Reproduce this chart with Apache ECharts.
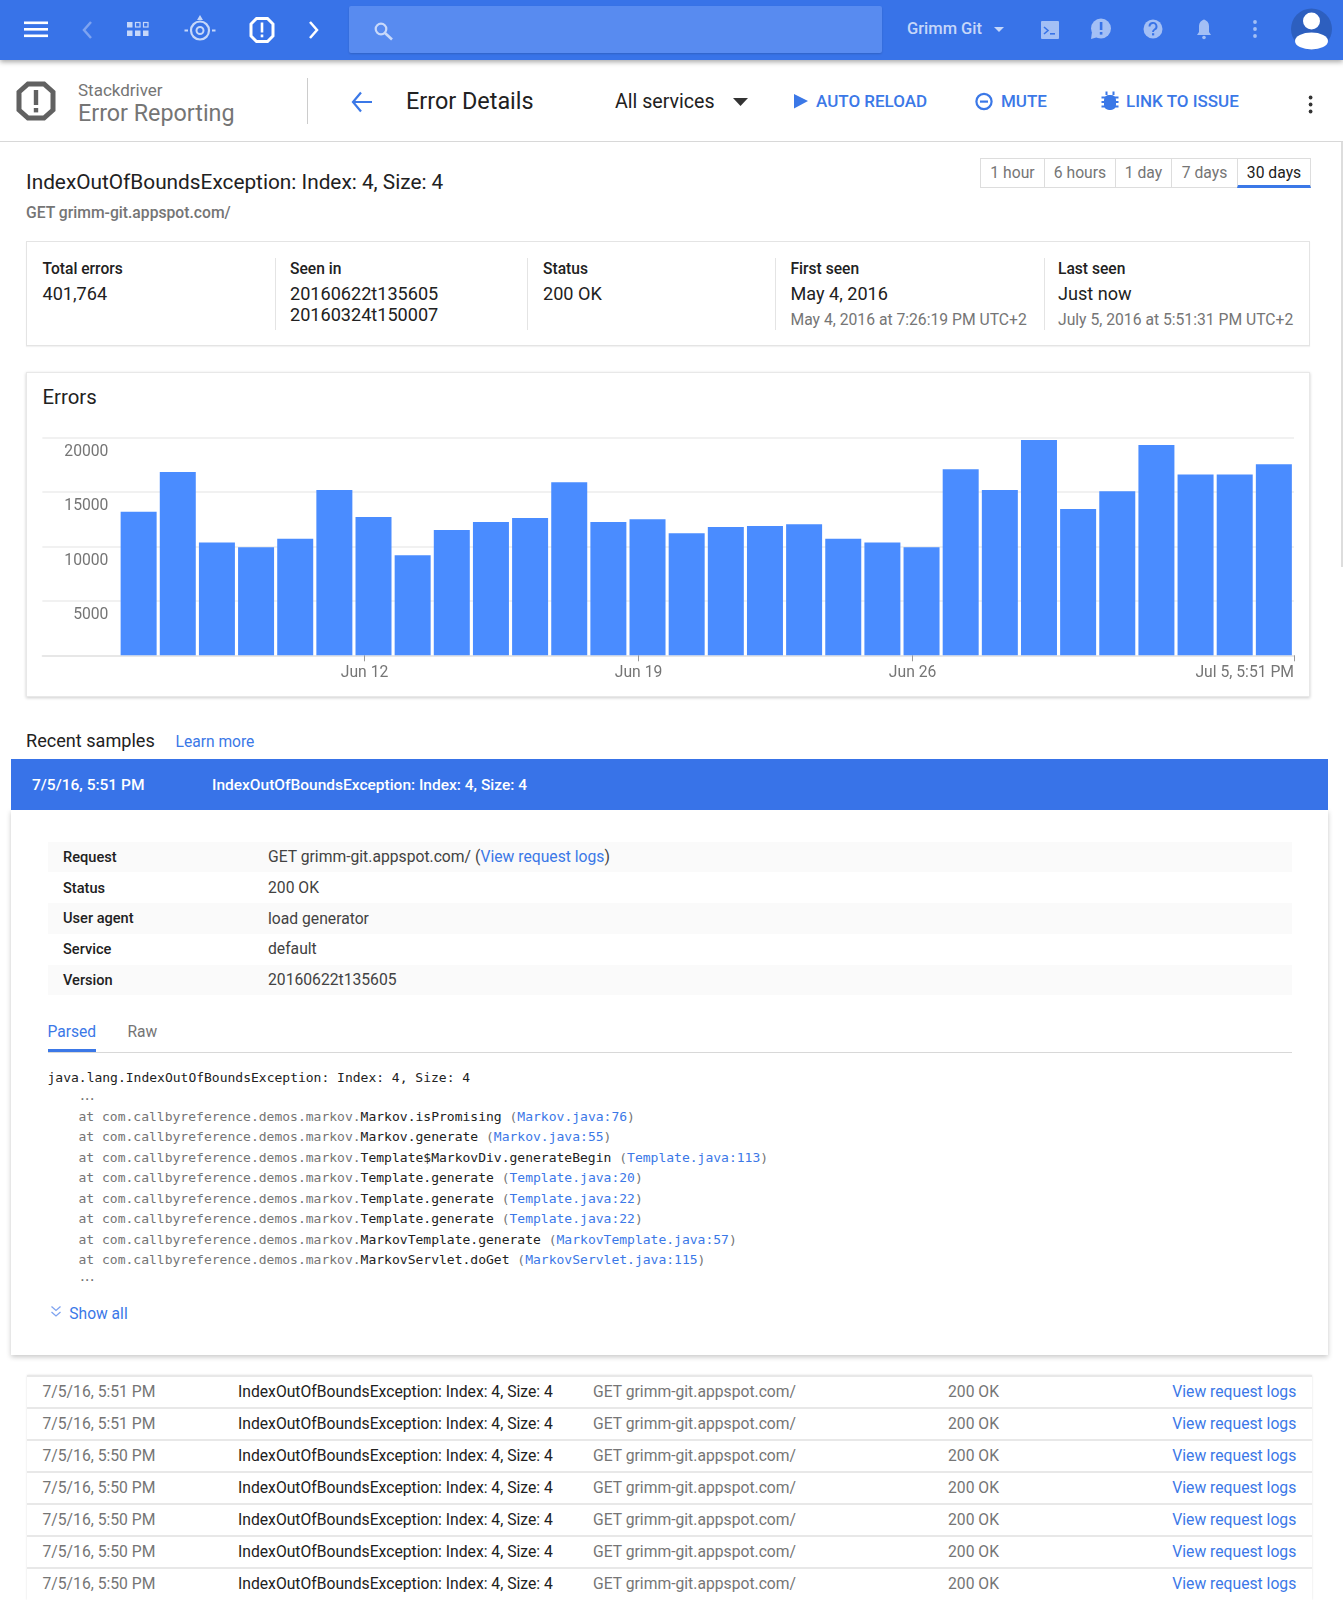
<!DOCTYPE html>
<html>
<head>
<meta charset="utf-8">
<title>Error Details</title>
<script src="https://cdn.jsdelivr.net/npm/echarts@6/dist/echarts.min.js"></script>
<style>
html,body{margin:0;padding:0;background:#fff;font-family:Roboto,sans-serif;}
#page{position:relative;width:1343px;height:1600px;overflow:hidden;}
.t{position:absolute;white-space:nowrap;line-height:20px;height:20px;margin-top:-10px;}
.b{position:absolute;box-sizing:border-box;}
a{color:#3b78e7;}
svg{position:absolute;left:0;top:0;}
</style>
</head>
<body>
<div id="page"></div>
<script>
// chart values
var barDates = ['2016-06-06','2016-06-07','2016-06-08','2016-06-09','2016-06-10','2016-06-11','2016-06-12','2016-06-13','2016-06-14','2016-06-15',
	'2016-06-16','2016-06-17','2016-06-18','2016-06-19','2016-06-20','2016-06-21','2016-06-22','2016-06-23','2016-06-24','2016-06-25',
	'2016-06-26','2016-06-27','2016-06-28','2016-06-29','2016-06-30','2016-07-01','2016-07-02','2016-07-03','2016-07-04','2016-07-05'];
var barValues = [13180,16820,10340,9910,10700,15170,12690,9170,11500,12230,
	12600,15870,12230,12480,11190,11770,11870,12020,10700,10340,
	9910,17060,15170,19750,13420,15050,19300,16580,16580,17520];
var tickDates = ['2016-06-12T00:00','2016-06-19T00:00','2016-06-26T00:00','2016-07-05T17:51'];
var tickLabels = ['Jun 12','Jun 19','Jun 26','Jul 5, 5:51 PM'];
var axisStart = '2016-06-03T18:30';

var statRows = [['Request'],['Status','200 OK'],['User agent','load generator'],['Service','default'],['Version','20160622t135605']];
var traceRows = [
	['Markov.isPromising','Markov.java:76'],
	['Markov.generate','Markov.java:55'],
	['Template$MarkovDiv.generateBegin','Template.java:113'],
	['Template.generate','Template.java:20'],
	['Template.generate','Template.java:22'],
	['Template.generate','Template.java:22'],
	['MarkovTemplate.generate','MarkovTemplate.java:57'],
	['MarkovServlet.doGet','MarkovServlet.java:115']
];
var sampleTimes = ['7/5/16, 5:51 PM','7/5/16, 5:51 PM','7/5/16, 5:50 PM','7/5/16, 5:50 PM','7/5/16, 5:50 PM','7/5/16, 5:50 PM','7/5/16, 5:50 PM'];

var page = document.getElementById('page');
var BLUE = '#3b78e7';
var GREY = '#757575';
var DARK = '#212121';

function text(x, y, str, size, color, weight, extra){
	var d = document.createElement('div');
	d.className = 't';
	d.style.cssText = 'left:'+x+'px;top:'+y+'px;font-size:'+size+'px;color:'+color+';font-weight:'+(weight||400)+';'+(extra||'');
	d.innerHTML = str;
	page.appendChild(d);
	return d;
}
function box(x, y, w, h, style){
	var d = document.createElement('div');
	d.className = 'b';
	d.style.cssText = 'left:'+x+'px;top:'+y+'px;width:'+w+'px;height:'+h+'px;'+style;
	page.appendChild(d);
	return d;
}
function ms(s){ return new Date(s).getTime(); }

// top bar and sub header
box(0,141,1343,1,'background:#d8d8d8;');
box(0,0,1343,60,'background:#3873e8;box-shadow:0 2px 5px rgba(0,0,0,.35);');
box(349,6,533,47,'background:#588bf0;border-radius:2px;box-shadow:0 1px 2px rgba(0,0,0,.15);');
text(907,29,'Grimm Git',16.5,'#c6d7f9',500);
box(1341,142,2,425,'background:#ddd;');

text(78,90.2,'Stackdriver',17,GREY);
text(78,113,'Error Reporting',23.3,GREY);
box(307,78,1,46,'background:#ccc;');
text(406,101,'Error Details',23.4,DARK);
text(615,101.5,'All services',19.6,DARK);
text(816,101,'AUTO RELOAD',17,BLUE,500);
text(1001,101,'MUTE',17,BLUE,500);
text(1126,101,'LINK TO ISSUE',17,BLUE,500);

// range buttons
var ranges = [['1 hour',980,64],['6 hours',1044,71],['1 day',1115,56],['7 days',1171,66],['30 days',1237,73]];
ranges.forEach(function(r,i){
	var on = i==4;
	box(r[1],158,r[2]+1,30,'border:1px solid #ddd;background:#fff;'+(on?'border-bottom:3px solid '+BLUE+';':''));
	text(r[1],172.5,r[0],15.7,on?DARK:GREY,400,'width:'+(r[2]+1)+'px;text-align:center;');
});

// heading and stats
text(26,182,'IndexOutOfBoundsException: Index: 4, Size: 4',20.8,DARK);
text(26,213,'GET grimm-git.appspot.com/',15.7,GREY,500);
box(26,241,1284,105,'border:1px solid #e4e4e4;box-shadow:0 1px 1px rgba(0,0,0,.05);');
[275,527,775,1044].forEach(function(x){ box(x,258,1,72,'background:#e4e4e4;'); });
text(42.5,268.5,'Total errors',15.6,DARK,500);
text(42.5,294,'401,764',18.1,DARK);
text(290,268.5,'Seen in',15.6,DARK,500);
text(290,294,'20160622t135605',18.1,DARK);
text(290,315,'20160324t150007',18.1,DARK);
text(543,268.5,'Status',15.6,DARK,500);
text(543,294,'200 OK',18.1,DARK);
text(790.5,268.5,'First seen',15.6,DARK,500);
text(790.5,294,'May 4, 2016',18.1,DARK);
text(790.5,319.5,'May 4, 2016 at 7:26:19 PM UTC+2',15.7,GREY);
text(1058,268.5,'Last seen',15.6,DARK,500);
text(1058,294,'Just now',18.1,DARK);
text(1058,319.5,'July 5, 2016 at 5:51:31 PM UTC+2',15.7,GREY);

// chart card
box(26,372,1284,325,'background:#fff;border:1px solid #e8e8e8;box-shadow:0 1px 3px rgba(0,0,0,.2);');
text(42.5,397,'Errors',20.4,DARK);
var main = box(26,372,1284,325,'');

// recent samples
text(26,740.5,'Recent samples',18.1,DARK);
text(175.5,741.5,'Learn more',15.6,BLUE);
box(11,810,1317,545,'background:#fff;box-shadow:0 2px 5px rgba(0,0,0,.22);');
box(11,759,1317,51,'background:#3873e8;');
text(32,785,'7/5/16, 5:51 PM',15.5,'#fff',500);
text(212,785,'IndexOutOfBoundsException: Index: 4, Size: 4',15.5,'#fff',500);

statRows.forEach(function(r,i){
	var y = 841.7+i*30.7;
	if(i%2==0) box(47.5,y,1244,30.7,'background:#fafafa;');
	text(63,y+15.3,r[0],14.6,DARK,500);
	var val = i==0 ? 'GET grimm-git.appspot.com/ (<a>View request logs</a>)' : r[1];
	text(268,y+15.4,val,15.7,'#424242');
});

text(47.5,1031.5,'Parsed',15.6,BLUE);
text(127.5,1031.5,'Raw',15.6,GREY);
box(47.5,1051.5,1244,1,'background:#d8d8d8;');
box(47.5,1049,48.5,2.5,'background:'+BLUE+';');

var MONO = 'font-family:\'DejaVu Sans Mono\',monospace;';
text(47.5,1078,'java.lang.IndexOutOfBoundsException: Index: 4, Size: 4',13,DARK,400,MONO);
text(78.5,1095.5,'...',13,'#757575',400,MONO+'letter-spacing:-3px;');
traceRows.forEach(function(r,i){
	text(78.5,1116.8+i*20.5,'at com.callbyreference.demos.markov.<span style="color:'+DARK+'">'+r[0]+'</span> (<a>'+r[1]+'</a>)',13.02,GREY,400,MONO);
});
text(78.5,1277,'...',13,'#757575',400,MONO+'letter-spacing:-3px;');
text(69.3,1313.5,'Show all',15.6,BLUE);

// sample table
box(27,1375,1285,225,'box-shadow:0 0 2px rgba(0,0,0,.12);');
sampleTimes.forEach(function(s,i){
	var y = 1375+i*32;
	box(27,y,1285,1.5,'background:#e8e8e8;');
	text(42.5,y+16.7,s,15.7,GREY);
	text(238,y+16.7,'IndexOutOfBoundsException: Index: 4, Size: 4',15.7,DARK);
	text(593,y+16.7,'GET grimm-git.appspot.com/',15.7,GREY);
	text(948,y+16.7,'200 OK',15.7,GREY);
	text(1172.3,y+16.7,'<a>View request logs</a>',15.7,BLUE);
});

// icons, all in page coordinates
var icons = document.createElementNS('http://www.w3.org/2000/svg','svg');
icons.setAttribute('width',1343);
icons.setAttribute('height',150);
icons.innerHTML =
	'<g fill="#fff"><rect x="24" y="21.5" width="24" height="2.6"/><rect x="24" y="28" width="24" height="2.6"/><rect x="24" y="34.5" width="24" height="2.6"/></g>'
	+'<path d="M91 22 L84 30 L91 38" fill="none" stroke="#7ea3f0" stroke-width="2.5"/>'
	+'<g fill="#c6d7f9"><rect x="127" y="22" width="5.5" height="5.5"/><rect x="127" y="30.5" width="5.5" height="5.5"/><rect x="135" y="30.5" width="5.5" height="5.5"/><rect x="143" y="30.5" width="5.5" height="5.5"/></g>'
	+'<g fill="none" stroke="#c6d7f9" stroke-width="1.2"><rect x="135.5" y="22.5" width="4.5" height="4.5"/><rect x="143.5" y="22.5" width="4.5" height="4.5"/></g>'
	+'<g fill="none" stroke="#c6d7f9"><circle cx="200" cy="30.5" r="9" stroke-width="2.2"/><circle cx="200" cy="30.5" r="3.5" stroke-width="2"/></g>'
	+'<g fill="#c6d7f9"><path d="M200 15 L203 20 L197 20 Z"/><rect x="184.5" y="29.5" width="3.5" height="2"/><rect x="212" y="29.5" width="3.5" height="2"/></g>'
	+'<polygon points="256.5,18.5 267.5,18.5 273,24 273,36 267.5,41.5 256.5,41.5 251,36 251,24" fill="none" stroke="#fff" stroke-width="3"/>'
	+'<rect x="260.7" y="22.5" width="2.6" height="10" fill="#fff"/><rect x="260.7" y="34.5" width="2.6" height="2.8" fill="#fff"/>'
	+'<path d="M310 22 L317 30 L310 38" fill="none" stroke="#fff" stroke-width="2.5"/>'
	+'<circle cx="381" cy="29" r="5.3" fill="none" stroke="#c9d9fa" stroke-width="2.2"/><path d="M385 33 L392 39.5" stroke="#c9d9fa" stroke-width="2.6"/>'
	+'<path d="M994 27 L1004 27 L999 32 Z" fill="#c6d7f9"/>'
	+'<rect x="1041" y="21" width="18" height="18" rx="1" fill="#a3bff5"/><path d="M1044 27 L1048 30.5 L1044 34" fill="none" stroke="#3873e8" stroke-width="1.6"/><rect x="1050" y="33" width="5" height="1.6" fill="#3873e8"/>'
	+'<circle cx="1101" cy="28.5" r="10" fill="#a3bff5"/><path d="M1092 32 L1091 39 L1098 37 Z" fill="#a3bff5"/><rect x="1099.8" y="22" width="2.6" height="8" fill="#3873e8"/><rect x="1099.8" y="32" width="2.6" height="2.6" fill="#3873e8"/>'
	+'<circle cx="1153" cy="29" r="9.5" fill="#a3bff5"/>'
	+'<path d="M1149.5 26.5 A3.5 3.5 0 1 1 1154.6 29.5 Q1153 30.4 1153 32" fill="none" stroke="#3873e8" stroke-width="1.9"/><rect x="1152" y="33.2" width="2.2" height="2.2" fill="#3873e8"/>'
	+'<path d="M1197 35 L1199 32 L1199 26 A5 6 0 0 1 1209 26 L1209 32 L1211 35 Z" fill="#a3bff5"/><circle cx="1204" cy="21" r="1.6" fill="#a3bff5"/><circle cx="1204" cy="37.5" r="1.8" fill="#a3bff5"/>'
	+'<g fill="#a3bff5"><circle cx="1255" cy="22" r="1.9"/><circle cx="1255" cy="29" r="1.9"/><circle cx="1255" cy="36" r="1.9"/></g>'
	+'<circle cx="1311.5" cy="29" r="20.5" fill="#2d5fbf"/><circle cx="1311.5" cy="21" r="8.5" fill="#fff"/><ellipse cx="1311.5" cy="41" rx="16.5" ry="8.5" fill="#fff"/>'
	+'<polygon points="28,84 44,84 53,92 53,110 44,118 28,118 19,110 19,92" fill="#fff" stroke="#616161" stroke-width="5"/>'
	+'<rect x="33.8" y="90" width="4.4" height="15" fill="#616161"/><rect x="33.8" y="108" width="4.4" height="4.4" fill="#616161"/>'
	+'<path d="M361 92.5 L353 102 L361 111.5 M353 102 L372 102" fill="none" stroke="'+BLUE+'" stroke-width="2.2"/>'
	+'<path d="M733 98 L748 98 L740.5 106 Z" fill="#333"/>'
	+'<path d="M794 94 L808 101 L794 108.5 Z" fill="'+BLUE+'"/>'
	+'<circle cx="984" cy="101.5" r="7.6" fill="none" stroke="'+BLUE+'" stroke-width="2.2"/><rect x="980" y="100.5" width="8" height="2.2" fill="'+BLUE+'"/>'
	+'<g fill="'+BLUE+'"><rect x="1104" y="95" width="12" height="15" rx="5"/><rect x="1101.5" y="96.5" width="17" height="2"/><rect x="1101.5" y="101" width="17" height="2"/><rect x="1101.5" y="105.5" width="17" height="2"/><rect x="1105.5" y="91.5" width="2" height="3.5"/><rect x="1112.5" y="91.5" width="2" height="3.5"/></g>'
	+'<g fill="#333"><circle cx="1310.6" cy="97.5" r="1.9"/><circle cx="1310.6" cy="104.5" r="1.9"/><circle cx="1310.6" cy="111.5" r="1.9"/></g>';
page.appendChild(icons);

var chev = document.createElementNS('http://www.w3.org/2000/svg','svg');
chev.setAttribute('width',20);
chev.setAttribute('height',20);
chev.style.cssText = 'left:46px;top:1303px;';
chev.innerHTML = '<path d="M5.5 3.5 L10 7.5 L14.5 3.5 M5.5 9 L10 13 L14.5 9" fill="none" stroke="#7ea3f0" stroke-width="1.3"/>';
page.appendChild(chev);

// the chart itself, x is a plain value axis over timestamps
var myChart = echarts.init(main);
var ticks = tickDates.map(ms);
var data = barDates.map(function(d,i){ return [ms(d+'T05:30'), barValues[i]]; });

myChart.setOption({
	animation: false,
	grid: {left: 16.4, right: 16, top: 65.3, height: 218},
	xAxis: {
		type: 'value',
		min: ms(axisStart),
		max: ticks[ticks.length-1],
		axisLine: {lineStyle: {color: '#e4e4e4', width: 1.5}},
		axisTick: {show: true, customValues: ticks, length: 6, lineStyle: {color: '#999', width: 1}},
		splitLine: {show: false},
		axisLabel: {
			customValues: ticks,
			margin: 9.5,
			alignMaxLabel: 'right',
			color: GREY,
			fontFamily: 'Roboto',
			fontSize: 15.7,
			formatter: function(v){ return tickLabels[ticks.indexOf(v)]; }
		}
	},
	yAxis: {
		type: 'value',
		min: 0,
		max: 20000,
		interval: 5000,
		axisLine: {show: false},
		axisTick: {show: false},
		splitLine: {lineStyle: {color: '#ececec', width: 1.5}},
		axisLabel: {
			inside: true,
			margin: 66,
			align: 'right',
			verticalAlign: 'top',
			padding: [6.5,0,0,0],
			color: GREY,
			fontFamily: 'Roboto',
			fontSize: 15.7,
			formatter: function(v){ return v ? String(v) : ''; }
		}
	},
	series: [{
		name: 'Errors',
		type: 'bar',
		barWidth: 36,
		itemStyle: {color: '#4a8cff'},
		data: data
	}]
});
</script>
</body>
</html>
